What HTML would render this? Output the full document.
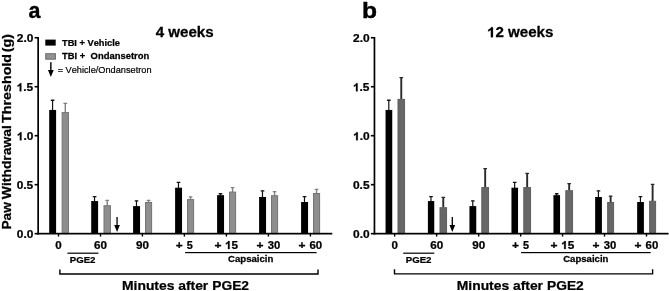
<!DOCTYPE html>
<html><head><meta charset="utf-8"><title>Figure</title>
<style>
html,body{margin:0;padding:0;background:#fff;}
body{width:669px;height:291px;overflow:hidden;font-family:"Liberation Sans",sans-serif;}
svg{display:block;will-change:transform;filter:grayscale(1);font-kerning:none;}
</style></head><body>
<svg width="669" height="291" viewBox="0 0 669 291" font-family="'Liberation Sans', sans-serif" fill="#000">
<rect width="669" height="291" fill="#fff"/>
<rect x="51.95" y="100.00" width="1.2" height="10.45" fill="#111"/>
<rect x="50.70" y="99.60" width="3.8" height="1.3" rx="0.4" fill="#111"/>
<rect x="49.20" y="109.95" width="6.90" height="123.70" fill="#000"/>
<rect x="64.60" y="103.20" width="1.4" height="9.40" fill="#808080"/>
<rect x="63.40" y="102.80" width="3.8" height="1.3" rx="0.4" fill="#808080"/>
<rect x="62.15" y="112.60" width="6.30" height="121.05" fill="#8e8e8e" stroke="#747474" stroke-width="1"/>
<rect x="93.95" y="196.40" width="1.2" height="5.15" fill="#111"/>
<rect x="92.70" y="196.00" width="3.8" height="1.3" rx="0.4" fill="#111"/>
<rect x="91.20" y="201.05" width="6.90" height="32.60" fill="#000"/>
<rect x="106.52" y="200.20" width="1.4" height="5.50" fill="#808080"/>
<rect x="105.32" y="199.80" width="3.8" height="1.3" rx="0.4" fill="#808080"/>
<rect x="104.00" y="205.70" width="6.45" height="27.95" fill="#8e8e8e" stroke="#747474" stroke-width="1"/>
<rect x="135.88" y="200.70" width="1.2" height="5.90" fill="#111"/>
<rect x="134.62" y="200.30" width="3.8" height="1.3" rx="0.4" fill="#111"/>
<rect x="133.10" y="206.10" width="6.95" height="27.55" fill="#000"/>
<rect x="147.85" y="200.20" width="1.4" height="2.30" fill="#808080"/>
<rect x="146.65" y="199.80" width="3.8" height="1.3" rx="0.4" fill="#808080"/>
<rect x="145.50" y="202.50" width="6.10" height="31.15" fill="#8e8e8e" stroke="#747474" stroke-width="1"/>
<rect x="177.88" y="182.10" width="1.2" height="6.10" fill="#111"/>
<rect x="176.62" y="181.70" width="3.8" height="1.3" rx="0.4" fill="#111"/>
<rect x="175.10" y="187.70" width="6.95" height="45.95" fill="#000"/>
<rect x="189.85" y="196.70" width="1.4" height="2.90" fill="#808080"/>
<rect x="188.65" y="196.30" width="3.8" height="1.3" rx="0.4" fill="#808080"/>
<rect x="187.50" y="199.60" width="6.10" height="34.05" fill="#8e8e8e" stroke="#747474" stroke-width="1"/>
<rect x="219.88" y="193.50" width="1.2" height="2.15" fill="#111"/>
<rect x="218.62" y="193.10" width="3.8" height="1.3" rx="0.4" fill="#111"/>
<rect x="217.10" y="195.15" width="6.95" height="38.50" fill="#000"/>
<rect x="231.85" y="187.40" width="1.4" height="4.70" fill="#808080"/>
<rect x="230.65" y="187.00" width="3.8" height="1.3" rx="0.4" fill="#808080"/>
<rect x="229.50" y="192.10" width="6.10" height="41.55" fill="#8e8e8e" stroke="#747474" stroke-width="1"/>
<rect x="261.88" y="190.70" width="1.2" height="6.80" fill="#111"/>
<rect x="260.63" y="190.30" width="3.8" height="1.3" rx="0.4" fill="#111"/>
<rect x="259.10" y="197.00" width="6.95" height="36.65" fill="#000"/>
<rect x="273.85" y="191.40" width="1.4" height="4.30" fill="#808080"/>
<rect x="272.65" y="191.00" width="3.8" height="1.3" rx="0.4" fill="#808080"/>
<rect x="271.50" y="195.70" width="6.10" height="37.95" fill="#8e8e8e" stroke="#747474" stroke-width="1"/>
<rect x="303.88" y="196.40" width="1.2" height="6.10" fill="#111"/>
<rect x="302.63" y="196.00" width="3.8" height="1.3" rx="0.4" fill="#111"/>
<rect x="301.10" y="202.00" width="6.95" height="31.65" fill="#000"/>
<rect x="315.85" y="189.05" width="1.4" height="4.45" fill="#808080"/>
<rect x="314.65" y="188.65" width="3.8" height="1.3" rx="0.4" fill="#808080"/>
<rect x="313.50" y="193.50" width="6.10" height="40.15" fill="#8e8e8e" stroke="#747474" stroke-width="1"/>
<rect x="37.30" y="37" width="1.7" height="197.50" fill="#000"/>
<rect x="37.30" y="232.80" width="295" height="1.7" fill="#000"/>
<rect x="34.60" y="232.85" width="3.5" height="1.6" fill="#000"/>
<g transform="translate(16.79,238.25) matrix(1.0570,0.0004,0,1,0,0)" font-size="11.3" font-weight="bold" stroke="#000" stroke-width="0.25"><text x="0.000" y="0" xml:space="preserve">0.0</text></g>
<rect x="34.60" y="183.88" width="3.5" height="1.6" fill="#000"/>
<g transform="translate(16.63,189.28) matrix(1.0570,0.0004,0,1,0,0)" font-size="11.3" font-weight="bold" stroke="#000" stroke-width="0.25"><text x="0.000" y="0" xml:space="preserve">0.5</text></g>
<rect x="34.60" y="134.90" width="3.5" height="1.6" fill="#000"/>
<g transform="translate(16.79,140.30) matrix(1.0570,0.0004,0,1,0,0)" font-size="11.3" font-weight="bold" stroke="#000" stroke-width="0.25"><path transform="translate(0.000,0) scale(0.005518,-0.005518)" d="M806 0H525V1059Q371 915 162 846V1101Q272 1137 401 1237.5Q530 1338 578 1472H806V0Z" stroke-width="45.3"/><text x="6.285" y="0" xml:space="preserve">.0</text></g>
<rect x="34.60" y="85.92" width="3.5" height="1.6" fill="#000"/>
<g transform="translate(16.63,91.32) matrix(1.0570,0.0004,0,1,0,0)" font-size="11.3" font-weight="bold" stroke="#000" stroke-width="0.25"><path transform="translate(0.000,0) scale(0.005518,-0.005518)" d="M806 0H525V1059Q371 915 162 846V1101Q272 1137 401 1237.5Q530 1338 578 1472H806V0Z" stroke-width="45.3"/><text x="6.285" y="0" xml:space="preserve">.5</text></g>
<rect x="34.60" y="36.95" width="3.5" height="1.6" fill="#000"/>
<g transform="translate(16.79,42.35) matrix(1.0570,0.0004,0,1,0,0)" font-size="11.3" font-weight="bold" stroke="#000" stroke-width="0.25"><text x="0.000" y="0" xml:space="preserve">2.0</text></g>
<rect x="57.80" y="233.65" width="1.4" height="2.9" fill="#000"/>
<text transform="translate(55.29,248.90) matrix(1.0610,0.0004,0,1,0,0)" font-size="10.9" font-weight="bold" stroke="#000" stroke-width="0.25" xml:space="preserve">0</text>
<rect x="99.80" y="233.65" width="1.4" height="2.9" fill="#000"/>
<text transform="translate(94.02,248.90) matrix(1.0729,0.0004,0,1,0,0)" font-size="10.9" font-weight="bold" stroke="#000" stroke-width="0.25" xml:space="preserve">60</text>
<rect x="141.70" y="233.65" width="1.4" height="2.9" fill="#000"/>
<text transform="translate(135.95,248.90) matrix(1.0709,0.0004,0,1,0,0)" font-size="10.9" font-weight="bold" stroke="#000" stroke-width="0.25" xml:space="preserve">90</text>
<rect x="183.70" y="233.65" width="1.4" height="2.9" fill="#000"/>
<text transform="translate(175.75,248.90) matrix(1.0977,0.0004,0,1,0,0)" font-size="10.9" font-weight="bold" stroke="#000" stroke-width="0.25" xml:space="preserve">+</text>
<text transform="translate(186.67,248.90) matrix(0.9957,0.0004,0,1,0,0)" font-size="10.9" font-weight="bold" stroke="#000" stroke-width="0.25" xml:space="preserve">5</text>
<rect x="225.70" y="233.65" width="1.4" height="2.9" fill="#000"/>
<text transform="translate(214.40,248.90) matrix(1.0977,0.0004,0,1,0,0)" font-size="10.9" font-weight="bold" stroke="#000" stroke-width="0.25" xml:space="preserve">+</text>
<g transform="translate(224.97,248.90) matrix(1.0813,0.0004,0,1,0,0)" font-size="10.9" font-weight="bold" stroke="#000" stroke-width="0.25"><path transform="translate(0.000,0) scale(0.005322,-0.005322)" d="M806 0H525V1059Q371 915 162 846V1101Q272 1137 401 1237.5Q530 1338 578 1472H806V0Z" stroke-width="47.0"/><text x="6.062" y="0" xml:space="preserve">5</text></g>
<rect x="267.70" y="233.65" width="1.4" height="2.9" fill="#000"/>
<text transform="translate(256.40,248.90) matrix(1.0977,0.0004,0,1,0,0)" font-size="10.9" font-weight="bold" stroke="#000" stroke-width="0.25" xml:space="preserve">+</text>
<text transform="translate(267.64,248.90) matrix(1.0370,0.0004,0,1,0,0)" font-size="10.9" font-weight="bold" stroke="#000" stroke-width="0.25" xml:space="preserve">30</text>
<rect x="309.70" y="233.65" width="1.4" height="2.9" fill="#000"/>
<text transform="translate(298.40,248.90) matrix(1.0977,0.0004,0,1,0,0)" font-size="10.9" font-weight="bold" stroke="#000" stroke-width="0.25" xml:space="preserve">+</text>
<text transform="translate(309.48,248.90) matrix(1.0507,0.0004,0,1,0,0)" font-size="10.9" font-weight="bold" stroke="#000" stroke-width="0.25" xml:space="preserve">60</text>
<rect x="116.40" y="217" width="1.3" height="9" fill="#000"/>
<path d="M114.20 224.9 L119.90 224.9 L117.05 232 Z" fill="#000"/>
<rect x="67.4" y="252.6" width="31.00" height="1.2" fill="#000"/>
<text transform="translate(69.75,262.55) matrix(1.0716,0.0004,0,1,0,0)" font-size="9.0" font-weight="bold" stroke="#000" stroke-width="0.25" xml:space="preserve">PGE2</text>
<rect x="185.1" y="252.0" width="131.50" height="1.2" fill="#000"/>
<text transform="translate(228.01,262.30) matrix(1.0558,0.0004,0,1,0,0)" font-size="9.1" font-weight="bold" stroke="#000" stroke-width="0.25" xml:space="preserve">Capsaicin</text>
<path d="M59.9 269.4 V274.0 H318.0 V269.4" fill="none" stroke="#000" stroke-width="1.4"/>
<text transform="translate(121.97,289.75) matrix(1.0371,0.0004,0,1,0,0)" font-size="13.4" font-weight="bold" stroke="#000" stroke-width="0.25" xml:space="preserve">Minutes</text>
<text transform="translate(178.19,289.75) matrix(1.0369,0.0004,0,1,0,0)" font-size="13.4" font-weight="bold" stroke="#000" stroke-width="0.25" xml:space="preserve">after</text>
<text transform="translate(212.28,289.75) matrix(1.0286,0.0004,0,1,0,0)" font-size="13.4" font-weight="bold" stroke="#000" stroke-width="0.25" xml:space="preserve">PGE2</text>
<text transform="translate(155.67,37.20) matrix(1.0965,0.0004,0,1,0,0)" font-size="13.8" font-weight="bold" stroke="#000" stroke-width="0.25" xml:space="preserve">4 weeks</text>
<text transform="translate(28.47,17.80) matrix(0.9377,0.0004,0,1,0,0)" font-size="22.8" font-weight="bold" stroke="#000" stroke-width="0.4" xml:space="preserve">a</text>
<rect x="388.20" y="100.00" width="1.2" height="10.45" fill="#111"/>
<rect x="386.95" y="99.60" width="3.8" height="1.3" rx="0.4" fill="#111"/>
<rect x="385.55" y="109.95" width="6.70" height="123.70" fill="#000"/>
<rect x="400.32" y="77.30" width="1.9" height="22.10" fill="#2a2a2a"/>
<rect x="399.38" y="76.90" width="3.8" height="1.3" rx="0.4" fill="#2a2a2a"/>
<rect x="398.00" y="99.40" width="6.55" height="134.25" fill="#676767" stroke="#5e5e5e" stroke-width="1"/>
<rect x="430.38" y="196.40" width="1.2" height="5.15" fill="#111"/>
<rect x="429.12" y="196.00" width="3.8" height="1.3" rx="0.4" fill="#111"/>
<rect x="427.90" y="201.05" width="6.35" height="32.60" fill="#000"/>
<rect x="442.32" y="197.20" width="1.9" height="10.50" fill="#2a2a2a"/>
<rect x="441.38" y="196.80" width="3.8" height="1.3" rx="0.4" fill="#2a2a2a"/>
<rect x="440.00" y="207.70" width="6.55" height="25.95" fill="#676767" stroke="#5e5e5e" stroke-width="1"/>
<rect x="472.15" y="200.70" width="1.2" height="5.90" fill="#111"/>
<rect x="470.90" y="200.30" width="3.8" height="1.3" rx="0.4" fill="#111"/>
<rect x="469.45" y="206.10" width="6.80" height="27.55" fill="#000"/>
<rect x="484.23" y="168.30" width="1.9" height="19.30" fill="#2a2a2a"/>
<rect x="483.28" y="167.90" width="3.8" height="1.3" rx="0.4" fill="#2a2a2a"/>
<rect x="481.80" y="187.60" width="6.75" height="46.05" fill="#676767" stroke="#5e5e5e" stroke-width="1"/>
<rect x="514.05" y="182.10" width="1.2" height="6.10" fill="#111"/>
<rect x="512.80" y="181.70" width="3.8" height="1.3" rx="0.4" fill="#111"/>
<rect x="511.45" y="187.70" width="6.60" height="45.95" fill="#000"/>
<rect x="526.22" y="173.10" width="1.9" height="14.50" fill="#2a2a2a"/>
<rect x="525.27" y="172.70" width="3.8" height="1.3" rx="0.4" fill="#2a2a2a"/>
<rect x="523.80" y="187.60" width="6.75" height="46.05" fill="#676767" stroke="#5e5e5e" stroke-width="1"/>
<rect x="556.05" y="193.50" width="1.2" height="2.15" fill="#111"/>
<rect x="554.80" y="193.10" width="3.8" height="1.3" rx="0.4" fill="#111"/>
<rect x="553.45" y="195.15" width="6.60" height="38.50" fill="#000"/>
<rect x="568.22" y="183.40" width="1.9" height="7.30" fill="#2a2a2a"/>
<rect x="567.27" y="183.00" width="3.8" height="1.3" rx="0.4" fill="#2a2a2a"/>
<rect x="565.80" y="190.70" width="6.75" height="42.95" fill="#676767" stroke="#5e5e5e" stroke-width="1"/>
<rect x="597.82" y="190.70" width="1.2" height="6.80" fill="#111"/>
<rect x="596.57" y="190.30" width="3.8" height="1.3" rx="0.4" fill="#111"/>
<rect x="595.15" y="197.00" width="6.75" height="36.65" fill="#000"/>
<rect x="609.67" y="195.90" width="1.9" height="6.60" fill="#2a2a2a"/>
<rect x="608.73" y="195.50" width="3.8" height="1.3" rx="0.4" fill="#2a2a2a"/>
<rect x="607.65" y="202.50" width="5.95" height="31.15" fill="#676767" stroke="#5e5e5e" stroke-width="1"/>
<rect x="639.82" y="196.40" width="1.2" height="6.10" fill="#111"/>
<rect x="638.57" y="196.00" width="3.8" height="1.3" rx="0.4" fill="#111"/>
<rect x="637.15" y="202.00" width="6.75" height="31.65" fill="#000"/>
<rect x="651.67" y="184.10" width="1.9" height="17.20" fill="#2a2a2a"/>
<rect x="650.73" y="183.70" width="3.8" height="1.3" rx="0.4" fill="#2a2a2a"/>
<rect x="649.65" y="201.30" width="5.95" height="32.35" fill="#676767" stroke="#5e5e5e" stroke-width="1"/>
<rect x="373.60" y="37" width="1.7" height="197.50" fill="#000"/>
<rect x="373.60" y="232.80" width="295" height="1.7" fill="#000"/>
<rect x="370.90" y="232.85" width="3.5" height="1.6" fill="#000"/>
<g transform="translate(353.09,238.25) matrix(1.0570,0.0004,0,1,0,0)" font-size="11.3" font-weight="bold" stroke="#000" stroke-width="0.25"><text x="0.000" y="0" xml:space="preserve">0.0</text></g>
<rect x="370.90" y="183.88" width="3.5" height="1.6" fill="#000"/>
<g transform="translate(352.93,189.28) matrix(1.0570,0.0004,0,1,0,0)" font-size="11.3" font-weight="bold" stroke="#000" stroke-width="0.25"><text x="0.000" y="0" xml:space="preserve">0.5</text></g>
<rect x="370.90" y="134.90" width="3.5" height="1.6" fill="#000"/>
<g transform="translate(353.09,140.30) matrix(1.0570,0.0004,0,1,0,0)" font-size="11.3" font-weight="bold" stroke="#000" stroke-width="0.25"><path transform="translate(0.000,0) scale(0.005518,-0.005518)" d="M806 0H525V1059Q371 915 162 846V1101Q272 1137 401 1237.5Q530 1338 578 1472H806V0Z" stroke-width="45.3"/><text x="6.285" y="0" xml:space="preserve">.0</text></g>
<rect x="370.90" y="85.92" width="3.5" height="1.6" fill="#000"/>
<g transform="translate(352.93,91.32) matrix(1.0570,0.0004,0,1,0,0)" font-size="11.3" font-weight="bold" stroke="#000" stroke-width="0.25"><path transform="translate(0.000,0) scale(0.005518,-0.005518)" d="M806 0H525V1059Q371 915 162 846V1101Q272 1137 401 1237.5Q530 1338 578 1472H806V0Z" stroke-width="45.3"/><text x="6.285" y="0" xml:space="preserve">.5</text></g>
<rect x="370.90" y="36.95" width="3.5" height="1.6" fill="#000"/>
<g transform="translate(353.09,42.35) matrix(1.0570,0.0004,0,1,0,0)" font-size="11.3" font-weight="bold" stroke="#000" stroke-width="0.25"><text x="0.000" y="0" xml:space="preserve">2.0</text></g>
<rect x="393.95" y="233.65" width="1.4" height="2.9" fill="#000"/>
<text transform="translate(391.44,248.90) matrix(1.0610,0.0004,0,1,0,0)" font-size="10.9" font-weight="bold" stroke="#000" stroke-width="0.25" xml:space="preserve">0</text>
<rect x="435.95" y="233.65" width="1.4" height="2.9" fill="#000"/>
<text transform="translate(430.17,248.90) matrix(1.0729,0.0004,0,1,0,0)" font-size="10.9" font-weight="bold" stroke="#000" stroke-width="0.25" xml:space="preserve">60</text>
<rect x="477.95" y="233.65" width="1.4" height="2.9" fill="#000"/>
<text transform="translate(472.20,248.90) matrix(1.0709,0.0004,0,1,0,0)" font-size="10.9" font-weight="bold" stroke="#000" stroke-width="0.25" xml:space="preserve">90</text>
<rect x="519.95" y="233.65" width="1.4" height="2.9" fill="#000"/>
<text transform="translate(512.00,248.90) matrix(1.0977,0.0004,0,1,0,0)" font-size="10.9" font-weight="bold" stroke="#000" stroke-width="0.25" xml:space="preserve">+</text>
<text transform="translate(522.92,248.90) matrix(0.9957,0.0004,0,1,0,0)" font-size="10.9" font-weight="bold" stroke="#000" stroke-width="0.25" xml:space="preserve">5</text>
<rect x="561.85" y="233.65" width="1.4" height="2.9" fill="#000"/>
<text transform="translate(550.55,248.90) matrix(1.0977,0.0004,0,1,0,0)" font-size="10.9" font-weight="bold" stroke="#000" stroke-width="0.25" xml:space="preserve">+</text>
<g transform="translate(561.12,248.90) matrix(1.0813,0.0004,0,1,0,0)" font-size="10.9" font-weight="bold" stroke="#000" stroke-width="0.25"><path transform="translate(0.000,0) scale(0.005322,-0.005322)" d="M806 0H525V1059Q371 915 162 846V1101Q272 1137 401 1237.5Q530 1338 578 1472H806V0Z" stroke-width="47.0"/><text x="6.062" y="0" xml:space="preserve">5</text></g>
<rect x="603.80" y="233.65" width="1.4" height="2.9" fill="#000"/>
<text transform="translate(592.50,248.90) matrix(1.0977,0.0004,0,1,0,0)" font-size="10.9" font-weight="bold" stroke="#000" stroke-width="0.25" xml:space="preserve">+</text>
<text transform="translate(603.74,248.90) matrix(1.0370,0.0004,0,1,0,0)" font-size="10.9" font-weight="bold" stroke="#000" stroke-width="0.25" xml:space="preserve">30</text>
<rect x="645.80" y="233.65" width="1.4" height="2.9" fill="#000"/>
<text transform="translate(634.50,248.90) matrix(1.0977,0.0004,0,1,0,0)" font-size="10.9" font-weight="bold" stroke="#000" stroke-width="0.25" xml:space="preserve">+</text>
<text transform="translate(645.58,248.90) matrix(1.0507,0.0004,0,1,0,0)" font-size="10.9" font-weight="bold" stroke="#000" stroke-width="0.25" xml:space="preserve">60</text>
<rect x="451.65" y="217" width="1.3" height="9" fill="#000"/>
<path d="M449.45 224.9 L455.15 224.9 L452.30 232 Z" fill="#000"/>
<rect x="403.2" y="252.6" width="31.10" height="1.2" fill="#000"/>
<text transform="translate(405.75,262.55) matrix(1.0716,0.0004,0,1,0,0)" font-size="9.0" font-weight="bold" stroke="#000" stroke-width="0.25" xml:space="preserve">PGE2</text>
<rect x="521.1" y="252.0" width="129.60" height="1.2" fill="#000"/>
<text transform="translate(563.21,262.30) matrix(1.0535,0.0004,0,1,0,0)" font-size="9.1" font-weight="bold" stroke="#000" stroke-width="0.25" xml:space="preserve">Capsaicin</text>
<path d="M394.5 269.3 V273.85 H652.6 V269.3" fill="none" stroke="#000" stroke-width="1.4"/>
<text transform="translate(456.72,289.75) matrix(1.0371,0.0004,0,1,0,0)" font-size="13.4" font-weight="bold" stroke="#000" stroke-width="0.25" xml:space="preserve">Minutes</text>
<text transform="translate(512.94,289.75) matrix(1.0369,0.0004,0,1,0,0)" font-size="13.4" font-weight="bold" stroke="#000" stroke-width="0.25" xml:space="preserve">after</text>
<text transform="translate(547.03,289.75) matrix(1.0286,0.0004,0,1,0,0)" font-size="13.4" font-weight="bold" stroke="#000" stroke-width="0.25" xml:space="preserve">PGE2</text>
<g transform="translate(487.00,37.30) matrix(1.0723,0.0004,0,1,0,0)" font-size="14.1" font-weight="bold" stroke="#000" stroke-width="0.25"><path transform="translate(0.000,0) scale(0.006885,-0.006885)" d="M806 0H525V1059Q371 915 162 846V1101Q272 1137 401 1237.5Q530 1338 578 1472H806V0Z" stroke-width="36.3"/><text x="7.842" y="0" xml:space="preserve">2 weeks</text></g>
<text transform="translate(361.98,17.80) matrix(1.0793,0.0004,0,1,0,0)" font-size="22.8" font-weight="bold" stroke="#000" stroke-width="0.4" xml:space="preserve">b</text>
<text transform="translate(11.45,229.62) rotate(-90) matrix(1.0253,0.0004,0,1,0,0)" font-size="13.4" font-weight="bold" stroke="#000" stroke-width="0.25" >Paw</text>
<text transform="translate(11.45,199.21) rotate(-90) matrix(1.0382,0.0004,0,1,0,0)" font-size="13.4" font-weight="bold" stroke="#000" stroke-width="0.25" >Withdrawal</text>
<text transform="translate(11.45,123.06) rotate(-90) matrix(1.0685,0.0004,0,1,0,0)" font-size="13.4" font-weight="bold" stroke="#000" stroke-width="0.25" >Threshold</text>
<text transform="translate(11.45,52.21) rotate(-90) matrix(1.0650,0.0004,0,1,0,0)" font-size="13.4" font-weight="bold" stroke="#000" stroke-width="0.25" >(g)</text>
<rect x="45.3" y="39.6" width="10.4" height="6" fill="#000"/>
<rect x="45.7" y="53.7" width="9.7" height="5.5" fill="#929292" stroke="#6c6c6c" stroke-width="1"/>
<text transform="translate(62.00,46.10) matrix(0.9978,0.0004,0,1,0,0)" font-size="9.3" font-weight="bold" stroke="#000" stroke-width="0.25" xml:space="preserve">TBI + Vehicle</text>
<text transform="translate(61.99,59.30) matrix(1.0158,0.0004,0,1,0,0)" font-size="9.3" font-weight="bold" stroke="#000" stroke-width="0.25" xml:space="preserve">TBI +  Ondansetron</text>
<rect x="50.15" y="62.2" width="1.4" height="9" fill="#000"/>
<path d="M48 70.1 L53.7 70.1 L50.85 77.1 Z" fill="#000"/>
<text transform="translate(57.65,73.30) matrix(0.9903,0.0004,0,1,0,0)" font-size="9.3" stroke="#000" stroke-width="0.2" xml:space="preserve">= Vehicle/Ondansetron</text>
</svg>
</body></html>
